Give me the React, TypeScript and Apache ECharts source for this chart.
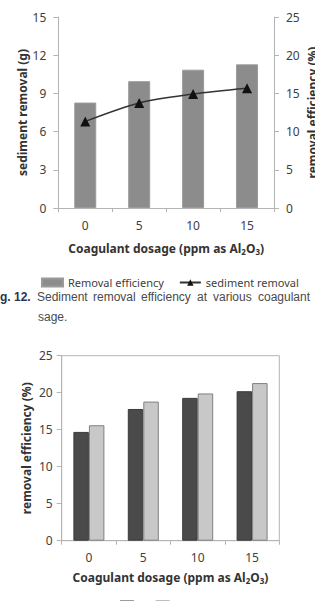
import React, { useEffect, useRef } from "react";
import * as echarts from "echarts";

// Coagulant dosage categories (ppm as Al2O3)
const categories = ["0", "5", "10", "15"];

// Upper panel: removal efficiency (%) bars and sediment removal (g) line
const removalEfficiency = [13.8, 16.6, 18.1, 18.8];
const sedimentRemoval = [6.8, 8.25, 8.95, 9.4];

// Lower panel: removal efficiency (%) for two conditions
const seriesNames = ["A", "B"];
const efficiencyA = [14.7, 17.8, 19.3, 20.2];
const efficiencyB = [15.6, 18.8, 19.9, 21.3];

// Caption words laid out as a justified line
const captionWords = ["Sediment", "removal", "efficiency", "at", "various", "coagulant"];
const captionX = [37, 93, 141, 197, 213, 258];

const AXIS_COLOR = "#b4b4b4";
const TEXT_COLOR = "#404040";
const FONT = "'Noto Sans', 'Open Sans', sans-serif";

const dosageName = "{b|Coagulant dosage (ppm as Al}{s|2}{b|O}{s|3}{b|)}";
const dosageRich = {
  b: { fontFamily: FONT, fontWeight: "bold", fontSize: 12, color: "#333", lineHeight: 14 },
  s: { fontFamily: FONT, fontWeight: "bold", fontSize: 8, color: "#333", lineHeight: 6, verticalAlign: "bottom" },
};

function valueAxis(gridIndex: number, max: number, interval: number, name: string, position: "left" | "right", nameGap: number, labelMargin: number) {
  return {
    type: "value",
    gridIndex,
    position,
    min: 0,
    max,
    interval,
    name,
    nameLocation: "middle",
    nameRotate: 90,
    nameGap,
    nameMoveOverlap: false,
    nameTextStyle: { fontFamily: FONT, fontWeight: "bold", fontSize: 12, color: "#333" },
    axisLine: { show: true, lineStyle: { color: AXIS_COLOR, width: 1 } },
    axisTick: { show: true, length: 5, lineStyle: { color: AXIS_COLOR } },
    splitLine: { show: false },
    axisLabel: { fontFamily: FONT, fontSize: 12, color: TEXT_COLOR, margin: labelMargin },
  };
}

function categoryAxis(gridIndex: number, nameGap: number) {
  return {
    type: "category",
    gridIndex,
    data: categories,
    name: dosageName,
    nameLocation: "middle",
    nameGap,
    nameMoveOverlap: false,
    nameTextStyle: { rich: dosageRich },
    axisLine: { show: true, lineStyle: { color: AXIS_COLOR, width: 1 } },
    axisTick: { show: true, length: 4, lineStyle: { color: AXIS_COLOR } },
    axisLabel: { fontFamily: FONT, fontSize: 12, color: TEXT_COLOR, margin: 11 },
  };
}

export default function App() {
  const ref = useRef<HTMLDivElement>(null);

  useEffect(() => {
    document.body.style.margin = "0";
    if (!ref.current) return;
    const chart = echarts.init(ref.current, null, { renderer: "svg" });

    const captionGraphics = captionWords.map((w, i) => ({
      type: "text",
      x: captionX[i],
      y: 297,
      style: {
        text: w,
        font: "12px 'Liberation Sans', Arial, sans-serif",
        fill: "#4a4a4a",
        textVerticalAlign: "middle",
      },
    }));

    chart.setOption({
      animation: false,
      backgroundColor: "#ffffff",
      grid: [
        { left: 58.3, top: 17, width: 215.7, height: 191, containLabel: false },
        {
          left: 61.7, top: 355.7, width: 217.6, height: 185, containLabel: false,
          show: true, borderColor: AXIS_COLOR, borderWidth: 1,
        },
      ],
      xAxis: [categoryAxis(0, 33), categoryAxis(1, 30)],
      yAxis: [
        valueAxis(0, 15, 3, "sediment removal (g)", "left", 30, 12),
        valueAxis(0, 25, 5, "", "right", 0, 12),
        valueAxis(1, 25, 5, "removal efficiency (%)", "left", 29, 9),
      ],
      legend: [
        {
          orient: "horizontal",
          left: 36,
          top: 272,
          width: 290,
          itemWidth: 21,
          itemHeight: 8,
          itemGap: 15,
          textStyle: { fontFamily: FONT, fontSize: 11, color: TEXT_COLOR },
          data: [
            { name: "Removal efficiency", icon: "rect" },
            { name: "sediment removal" },
          ],
        },
        {
          orient: "horizontal",
          left: 115,
          top: 594,
          width: 200,
          itemWidth: 12,
          itemHeight: 7,
          itemGap: 10,
          textStyle: { fontFamily: FONT, fontSize: 12, color: TEXT_COLOR },
          data: seriesNames.map((n) => ({ name: n, icon: "rect" })),
        },
      ],
      graphic: [
        // Right-hand axis title of the upper panel, running along the page edge
        {
          type: "text",
          x: 312,
          y: 112.5,
          rotation: Math.PI / 2,
          style: {
            text: "removal efficiency (%)",
            font: `bold 12px ${FONT}`,
            fill: "#333",
            textAlign: "center",
            textVerticalAlign: "middle",
          },
        },
        {
          type: "text",
          x: 0,
          y: 297,
          style: {
            text: "g. 12.",
            font: "bold 12px 'Liberation Sans', Arial, sans-serif",
            fill: "#2a3550",
            textVerticalAlign: "middle",
          },
        },
        ...captionGraphics,
        {
          type: "text",
          x: 38,
          y: 317,
          style: {
            text: "sage.",
            font: "12px 'Liberation Sans', Arial, sans-serif",
            fill: "#4a4a4a",
            textVerticalAlign: "middle",
          },
        },
      ],
      series: [
        {
          name: "Removal efficiency",
          type: "bar",
          xAxisIndex: 0,
          yAxisIndex: 1,
          data: removalEfficiency,
          barWidth: 22,
          itemStyle: { color: "#8c8c8c", borderColor: "#9a9a9a", borderWidth: 1 },
        },
        {
          name: "sediment removal",
          type: "line",
          xAxisIndex: 0,
          yAxisIndex: 0,
          data: sedimentRemoval,
          smooth: 0.3,
          symbol: "triangle",
          symbolSize: 10,
          itemStyle: { color: "#111" },
          lineStyle: { color: "#333", width: 1.5 },
          z: 3,
        },
        {
          name: seriesNames[0],
          type: "bar",
          xAxisIndex: 1,
          yAxisIndex: 2,
          data: efficiencyA,
          barWidth: 15.5,
          barGap: "0%",
          itemStyle: { color: "#4a4a4a", borderColor: "#3a3a3a", borderWidth: 1 },
        },
        {
          name: seriesNames[1],
          type: "bar",
          xAxisIndex: 1,
          yAxisIndex: 2,
          data: efficiencyB,
          barWidth: 15.5,
          barGap: "0%",
          itemStyle: { color: "#c8c8c8", borderColor: "#808080", borderWidth: 1 },
        },
      ],
    });

    return () => chart.dispose();
  }, []);

  return <div ref={ref} style={{ width: 315, height: 601 }} />;
}
